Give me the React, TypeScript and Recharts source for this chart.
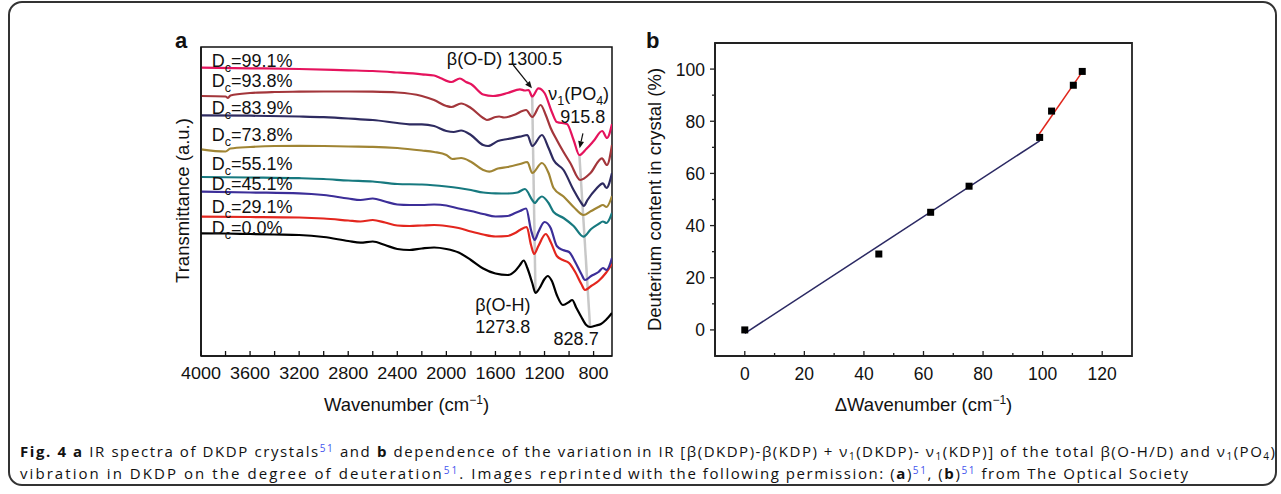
import React from 'react';
import {
  ComposedChart,
  Line,
  Scatter,
  XAxis,
  YAxis,
  ReferenceArea,
  ReferenceLine,
  ReferenceDot,
  Label,
} from 'recharts';

const FONT = '"Liberation Sans", Arial, Helvetica, sans-serif';
const CAPTION_FONT = '"Open Sans", "Noto Sans", sans-serif';

// ---------------- Panel a : IR spectra (wavenumber, transmittance a.u.) ----------------
const wavenumberTicks = [4000, 3800, 3600, 3400, 3200, 3000, 2800, 2600, 2400, 2200, 2000, 1800, 1600, 1400, 1200, 1000, 800];
const wavenumberLabelStep = 400;

const deuterationLabels = ['99.1', '93.8', '83.9', '73.8', '55.1', '45.1', '29.1', '0.0'];
const spectrumColors = ['#e5135d', '#a3363b', '#2e2b60', '#a08534', '#17797f', '#3c2e98', '#e3261e', '#000000'];

const spectrumD991 = [[4000, 28.83], [3600, 28.77], [3200, 28.7], [2800, 28.57], [2600, 28.5], [2400, 28.35], [2200, 28.17], [2100, 28.05], [2050, 27.8], [1960, 27.4], [1890, 27.75], [1840, 27.4], [1800, 27.2], [1700, 26.15], [1620, 26.0], [1500, 26.3], [1400, 26.67], [1360, 26.55], [1330, 26.6], [1300.5, 25.95], [1250, 26.77], [1200, 26.3], [1137, 24.3], [1100, 23.4], [1017, 23.2], [963, 21.6], [915.8, 20.1], [860, 20.7], [800, 21.5], [730, 22.5], [691, 21.8], [650, 23.2]];
const spectrumD938 = [[4000, 26.0], [3800, 25.95], [3780, 25.8], [3760, 26.05], [3600, 26.3], [3400, 26.4], [3200, 26.43], [3000, 26.45], [2800, 26.45], [2600, 26.43], [2400, 26.35], [2200, 26.0], [2100, 25.6], [2000, 25.0], [1960, 24.9], [1880, 25.25], [1800, 24.8], [1700, 23.8], [1670, 23.6], [1600, 23.9], [1570, 23.95], [1530, 23.85], [1450, 24.1], [1350, 24.6], [1300, 23.9], [1232, 25.1], [1190, 24.1], [1150, 22.8], [1100, 21.6], [1045, 20.4], [990, 19.3], [909, 17.6], [827, 18.27], [732, 19.77], [691, 19.1], [650, 21.1]];
const spectrumD839 = [[4000, 24.07], [3600, 24.03], [3200, 23.95], [3000, 23.88], [2800, 23.75], [2700, 23.67], [2600, 23.6], [2400, 23.3], [2300, 23.17], [2200, 23.17], [2100, 23.0], [2000, 22.5], [1940, 22.4], [1880, 22.55], [1800, 22.1], [1700, 21.1], [1660, 21.0], [1580, 21.5], [1500, 21.7], [1400, 21.93], [1340, 22.1], [1300, 21.0], [1221, 22.1], [1167, 20.8], [1126, 19.6], [1045, 18.6], [963, 16.6], [900, 15.3], [880, 15.0], [850, 15.6], [780, 16.7], [724, 17.27], [695, 16.8], [650, 18.3]];
const spectrumD738 = [[4000, 20.67], [3800, 20.45], [3760, 20.75], [3600, 20.9], [3400, 21.0], [3200, 21.02], [3000, 21.0], [2800, 20.95], [2600, 20.92], [2400, 20.8], [2200, 20.55], [2100, 20.4], [2000, 20.1], [1950, 19.7], [1880, 19.8], [1800, 19.43], [1700, 18.6], [1650, 18.43], [1580, 18.75], [1500, 18.9], [1400, 19.2], [1340, 19.4], [1300, 18.3], [1221, 19.3], [1167, 18.3], [1126, 16.8], [1045, 15.95], [963, 14.9], [882, 14.1], [820, 14.5], [760, 14.9], [724, 15.1], [695, 14.9], [650, 16.0]];
const spectrumD551 = [[4000, 17.9], [3600, 17.85], [3200, 17.78], [3000, 17.7], [2800, 17.55], [2600, 17.45], [2400, 17.2], [2200, 17.15], [2000, 16.95], [1900, 16.8], [1800, 16.6], [1700, 16.35], [1600, 16.27], [1500, 16.25], [1420, 16.35], [1360, 16.7], [1300, 15.6], [1280, 15.3], [1250, 15.7], [1221, 15.95], [1167, 15.3], [1126, 14.4], [1045, 13.8], [963, 13.0], [882, 11.93], [820, 12.7], [760, 13.2], [724, 13.45], [695, 13.3], [650, 14.3]];
const spectrumD451 = [[4000, 16.43], [3600, 16.35], [3200, 16.27], [3000, 16.1], [2800, 15.75], [2700, 15.6], [2600, 15.75], [2500, 15.45], [2400, 15.15], [2300, 15.1], [2200, 15.1], [2100, 15.15], [2000, 15.05], [1900, 14.75], [1800, 14.5], [1700, 14.2], [1600, 13.95], [1500, 14.0], [1440, 14.3], [1400, 14.5], [1350, 14.75], [1310, 12.6], [1280, 11.6], [1250, 12.4], [1200, 13.4], [1150, 12.8], [1100, 11.0], [1050, 10.6], [1000, 10.4], [950, 9.4], [900, 8.2], [870, 7.6], [820, 8.0], [760, 8.4], [724, 8.8], [695, 8.6], [650, 9.8]];
const spectrumD291 = [[4000, 13.93], [3600, 13.9], [3200, 13.85], [3000, 13.75], [2800, 13.55], [2700, 13.45], [2600, 13.6], [2500, 13.35], [2400, 13.05], [2300, 13.0], [2200, 13.05], [2100, 13.1], [2000, 13.0], [1900, 12.8], [1800, 12.45], [1700, 12.15], [1600, 11.95], [1500, 12.0], [1440, 12.3], [1400, 12.6], [1345, 12.9], [1310, 11.1], [1285, 10.2], [1250, 11.0], [1190, 12.2], [1150, 11.4], [1100, 10.0], [1050, 9.6], [1000, 9.3], [950, 8.4], [900, 7.2], [870, 6.6], [820, 7.0], [760, 7.5], [700, 8.3], [650, 9.2]];
const spectrumD000 = [[4000, 12.27], [3800, 12.25], [3600, 12.2], [3400, 12.15], [3200, 12.1], [3000, 11.9], [2800, 11.5], [2700, 11.33], [2600, 11.45], [2500, 11.1], [2400, 10.7], [2300, 10.6], [2200, 10.75], [2100, 10.85], [2000, 10.7], [1900, 10.35], [1800, 9.6], [1700, 8.75], [1600, 8.25], [1500, 8.1], [1440, 8.5], [1400, 9.1], [1370, 9.55], [1340, 8.8], [1300, 7.3], [1273.8, 6.3], [1240, 6.8], [1200, 7.7], [1175, 8.0], [1140, 7.5], [1100, 6.1], [1050, 5.1], [1000, 5.4], [975, 5.6], [940, 4.8], [900, 3.9], [860, 3.1], [828.7, 2.9], [780, 3.05], [740, 3.2], [700, 3.6], [650, 4.3]];

const spectraRaw = [spectrumD991, spectrumD938, spectrumD839, spectrumD738, spectrumD551, spectrumD451, spectrumD291, spectrumD000];
const spectra = spectraRaw.map((s) => s.map(([wn, t]) => ({ wn, t })));

// peak positions marked in panel a
const betaOD = 1300.5;
const betaOH = 1273.8;
const nu1D = 915.8;
const nu1H = 828.7;

// style-only: pixel nudges of the D_c labels relative to each curve start
const labelNudgePx = [-1, -9, -1, -8, -7.5, -1.5, -3.5, 0.5];
const labelWn = 3913;

// ---------------- Panel b : deuterium content vs delta wavenumber ----------------
const deltaWavenumber = [0, 45, 62.4, 75.3, 99, 103, 110.3, 113.3];
const deuteriumContent = [0, 29.1, 45.1, 55.1, 73.8, 83.9, 93.8, 99.1];
const fitLowX = [0, 99];
const fitLowY = [-1.3, 72.5];
const fitHighX = [98.8, 113.7];
const fitHighY = [75, 99.6];
const bXTicks = [0, 10, 20, 30, 40, 50, 60, 70, 80, 90, 100, 110, 120];
const bYTicks = [0, 10, 20, 30, 40, 50, 60, 70, 80, 90, 100];

const bPoints = deltaWavenumber.map((dw, i) => ({ dw, dc: deuteriumContent[i] }));
const fitLow = fitLowX.map((dw, i) => ({ dw, dc: fitLowY[i] }));
const fitHigh = fitHighX.map((dw, i) => ({ dw, dc: fitHighY[i] }));

const valueAt = (s: { wn: number; t: number }[], wn: number) => {
  const p = s.find((d) => d.wn === wn);
  return p ? p.t : 0;
};

// ---------------- custom renderers ----------------
const WnTick = (props: any) => {
  const { x, y, payload } = props;
  const v = payload.value;
  const major = v % wavenumberLabelStep === 0;
  const s = String(v);
  return (
    <g>
      <line x1={x} y1={y} x2={x} y2={y - 5} stroke="#111" strokeWidth={1.3} />
      {major && (
        <text
          x={x - s.length * 5}
          y={y + 23}
          textLength={s.length * 10}
          lengthAdjust="spacingAndGlyphs"
          fontFamily={FONT}
          fontSize={16.5}
          fill="#111"
        >
          {s}
        </text>
      )}
    </g>
  );
};

const DwTick = (props: any) => {
  const { x, y, payload } = props;
  const v = payload.value;
  const major = v % 20 === 0;
  return (
    <g>
      <line x1={x} y1={y} x2={x} y2={y - (major ? 5 : 3)} stroke="#222" strokeWidth={1.3} />
      {major && (
        <text x={x} y={y + 24} textAnchor="middle" fontFamily={FONT} fontSize={17.5} fill="#111">
          {v}
        </text>
      )}
    </g>
  );
};

const DcTick = (props: any) => {
  const { x, y, payload } = props;
  const v = payload.value;
  const major = v % 20 === 0;
  return (
    <g>
      <line x1={x} y1={y} x2={x - (major ? 5 : 3)} y2={y} stroke="#222" strokeWidth={1.3} />
      {major && (
        <text x={x - 10} y={y + 6.5} textAnchor="end" fontFamily={FONT} fontSize={17.5} fill="#111">
          {v}
        </text>
      )}
    </g>
  );
};

const Arrow = (p: any) => {
  const { x1, y1, x2, y2 } = p;
  const ang = Math.atan2(y2 - y1, x2 - x1);
  const L = 7;
  const W = 3;
  const bx = x2 - L * Math.cos(ang);
  const by = y2 - L * Math.sin(ang);
  const px = -Math.sin(ang) * W;
  const py = Math.cos(ang) * W;
  return (
    <g>
      <line x1={x1} y1={y1} x2={bx} y2={by} stroke="#111" strokeWidth={1.2} />
      <polygon points={`${x2},${y2} ${bx + px},${by + py} ${bx - px},${by - py}`} fill="#111" />
    </g>
  );
};

const SquareMarker = (p: any) => (
  <rect x={p.cx - 3.5} y={p.cy - 3.5} width={7} height={7} fill="#000" />
);

const txt = { fontFamily: FONT, fill: '#111' } as const;

const PanelA = () => (
  <ComposedChart width={640} height={430} margin={{ top: 47, right: 28, bottom: 14, left: 165 }}>
    <XAxis
      dataKey="wn"
      type="number"
      domain={[650, 4000]}
      reversed
      allowDataOverflow
      ticks={wavenumberTicks}
      interval={0}
      tickLine={false}
      tickSize={0}
      tickMargin={0}
      tick={<WnTick />}
      axisLine={{ stroke: '#111', strokeWidth: 1.5 }}
      height={60}
    >
      <Label
        content={(p: any) => {
          const vb = p.viewBox;
          return (
            <text x={vb.x + vb.width / 2} y={vb.y + 54.5} textAnchor="middle" fontSize={18.5} {...txt}>
              Wavenumber (cm
              <tspan dy={-7} fontSize={12}>−1</tspan>
              <tspan dy={7}>)</tspan>
            </text>
          );
        }}
      />
    </XAxis>
    <YAxis
      type="number"
      domain={[0, 30.9]}
      width={36}
      tick={false}
      tickLine={false}
      axisLine={{ stroke: '#111', strokeWidth: 1.5 }}
    >
      <Label
        content={(p: any) => {
          const vb = p.viewBox;
          const cx = vb.x + 24;
          const cy = vb.y + vb.height / 2 - 1;
          return (
            <text transform={`translate(${cx},${cy}) rotate(-90)`} textAnchor="middle" fontSize={18.5} {...txt}>
              Transmittance (a.u.)
            </text>
          );
        }}
      />
    </YAxis>
    <ReferenceArea x1={4000} x2={650} y1={0} y2={30.9} fill="none" stroke="#111" strokeWidth={1.5} />
    <ReferenceLine
      segment={[{ x: betaOD, y: valueAt(spectra[0], betaOD) }, { x: betaOH, y: valueAt(spectra[7], betaOH) }]}
      stroke="#c8c8c8"
      strokeWidth={2.5}
    />
    <ReferenceLine
      segment={[{ x: nu1D, y: valueAt(spectra[0], nu1D) }, { x: nu1H, y: valueAt(spectra[7], nu1H) }]}
      stroke="#c8c8c8"
      strokeWidth={2.5}
    />
    {spectra
      .map((s, i) => (
        <Line
          key={deuterationLabels[i]}
          data={s}
          dataKey="t"
          type="monotone"
          stroke={spectrumColors[i]}
          strokeWidth={2.2}
          dot={false}
          activeDot={false}
          isAnimationActive={false}
        />
      ))
      .reverse()}
    {spectra.map((s, i) => (
      <ReferenceDot
        key={'lab' + i}
        x={labelWn}
        y={s[0].t}
        r={0}
        shape={(p: any) => (
          <text x={p.cx} y={p.cy + labelNudgePx[i]} fontSize={18} {...txt}>
            D<tspan fontSize={12.5} dy={5}>c</tspan>
            <tspan dy={-5}>{'=' + deuterationLabels[i] + '%'}</tspan>
          </text>
        )}
      />
    ))}
    <ReferenceDot
      x={1996}
      y={29.15}
      r={0}
      shape={(p: any) => (
        <text x={p.cx} y={p.cy} fontSize={18} {...txt}>
          {'β(O-D) ' + betaOD}
        </text>
      )}
    />
    <ReferenceLine segment={[{ x: 1455, y: 29.1 }, { x: 1302.6, y: 26.77 }]} shape={<Arrow />} />
    <ReferenceDot
      x={1170}
      y={25.6}
      r={0}
      shape={(p: any) => (
        <text x={p.cx} y={p.cy} fontSize={18} {...txt}>
          ν<tspan fontSize={12.5} dy={5}>1</tspan>
          <tspan dy={-5}>(PO</tspan>
          <tspan fontSize={12.5} dy={5}>4</tspan>
          <tspan dy={-5}>)</tspan>
        </text>
      )}
    />
    <ReferenceDot
      x={1072}
      y={23.27}
      r={0}
      shape={(p: any) => (
        <text x={p.cx} y={p.cy} fontSize={18} {...txt}>
          {String(nu1D)}
        </text>
      )}
    />
    <ReferenceLine segment={[{ x: 887, y: 22.27 }, { x: 914, y: 20.77 }]} shape={<Arrow />} />
    <ReferenceDot
      x={1765}
      y={4.5}
      r={0}
      shape={(p: any) => (
        <text x={p.cx} y={p.cy} fontSize={18} {...txt}>
          β(O-H)
        </text>
      )}
    />
    <ReferenceDot
      x={1765}
      y={2.27}
      r={0}
      shape={(p: any) => (
        <text x={p.cx} y={p.cy} fontSize={18} {...txt}>
          {String(betaOH)}
        </text>
      )}
    />
    <ReferenceDot
      x={1126}
      y={1.1}
      r={0}
      shape={(p: any) => (
        <text x={p.cx} y={p.cy} fontSize={18} {...txt}>
          {String(nu1H)}
        </text>
      )}
    />
  </ComposedChart>
);

const PanelB = () => (
  <ComposedChart width={600} height={430} margin={{ top: 43, right: 28, bottom: 14, left: 95 }}>
    <XAxis
      dataKey="dw"
      type="number"
      domain={[-10, 130]}
      allowDataOverflow
      ticks={bXTicks}
      interval={0}
      tickLine={false}
      tickSize={0}
      tickMargin={0}
      tick={<DwTick />}
      axisLine={{ stroke: '#222', strokeWidth: 1.8 }}
      height={60}
    >
      <Label
        content={(p: any) => {
          const vb = p.viewBox;
          return (
            <text x={vb.x + vb.width / 2} y={vb.y + 54.5} textAnchor="middle" fontSize={18.5} {...txt}>
              ΔWavenumber (cm
              <tspan dy={-7} fontSize={12}>−1</tspan>
              <tspan dy={7}>)</tspan>
            </text>
          );
        }}
      />
    </XAxis>
    <YAxis
      type="number"
      domain={[-10, 110]}
      allowDataOverflow
      ticks={bYTicks}
      interval={0}
      width={60}
      tickLine={false}
      tickSize={0}
      tickMargin={0}
      tick={<DcTick />}
      axisLine={{ stroke: '#222', strokeWidth: 1.8 }}
    >
      <Label
        content={(p: any) => {
          const vb = p.viewBox;
          const cx = vb.x + 6;
          const cy = vb.y + vb.height / 2;
          return (
            <text transform={`translate(${cx},${cy}) rotate(-90)`} textAnchor="middle" fontSize={18.5} {...txt}>
              Deuterium content in crystal (%)
            </text>
          );
        }}
      />
    </YAxis>
    <ReferenceArea x1={-10} x2={130} y1={-10} y2={110} fill="none" stroke="#222" strokeWidth={1.8} />
    <Line data={fitLow} dataKey="dc" type="linear" stroke="#2b2963" strokeWidth={1.5} dot={false} activeDot={false} isAnimationActive={false} />
    <Line data={fitHigh} dataKey="dc" type="linear" stroke="#e0251b" strokeWidth={1.5} dot={false} activeDot={false} isAnimationActive={false} />
    <Scatter data={bPoints} dataKey="dc" shape={SquareMarker} isAnimationActive={false} />
  </ComposedChart>
);

const blue = '#4455ee';
const capFs = 15;
const subFs = 10;

const Caption = () => (
  <svg width={1281} height={494} style={{ position: 'absolute', left: 0, top: 0, pointerEvents: 'none' }}>
    <text x={175} y={47.5} fontFamily={FONT} fontWeight="bold" fontSize={22} fill="#111">a</text>
    <text x={646} y={47.5} fontFamily={FONT} fontWeight="bold" fontSize={22} fill="#111">b</text>
    <g fontFamily={CAPTION_FONT} fontSize={capFs} fill="#111">
      <text x={20} y={457} textLength={612} lengthAdjust="spacing">
        <tspan fontWeight="bold">{'Fig. 4 a'}</tspan>
        <tspan>{' IR spectra of DKDP crystals'}</tspan>
        <tspan dy={-5} fontSize={subFs} fill={blue}>51</tspan>
        <tspan dy={5}>{' and '}</tspan>
        <tspan fontWeight="bold">b</tspan>
        <tspan>{' dependence of the variation'}</tspan>
      </text>
      <text x={637} y={457} textLength={638} lengthAdjust="spacing">
        <tspan>{'in IR [β(DKDP)-β(KDP) + ν'}</tspan>
        <tspan dy={3} fontSize={subFs}>1</tspan>
        <tspan dy={-3}>{'(DKDP)- ν'}</tspan>
        <tspan dy={3} fontSize={subFs}>1</tspan>
        <tspan dy={-3}>{'(KDP)] of the total β(O-H/D) and ν'}</tspan>
        <tspan dy={3} fontSize={subFs}>1</tspan>
        <tspan dy={-3}>{'(PO'}</tspan>
        <tspan dy={3} fontSize={subFs}>4</tspan>
        <tspan dy={-3}>)</tspan>
      </text>
      <text x={20} y={479} textLength={602} lengthAdjust="spacing">
        <tspan>{'vibration in DKDP on the degree of deuteration'}</tspan>
        <tspan dy={-5} fontSize={subFs} fill={blue}>51</tspan>
        <tspan dy={5}>{'. Images reprinted'}</tspan>
      </text>
      <text x={628} y={479} textLength={560} lengthAdjust="spacing">
        <tspan>{'with the following permission: ('}</tspan>
        <tspan fontWeight="bold">a</tspan>
        <tspan>)</tspan>
        <tspan dy={-5} fontSize={subFs} fill={blue}>51</tspan>
        <tspan dy={5}>{', ('}</tspan>
        <tspan fontWeight="bold">b</tspan>
        <tspan>)</tspan>
        <tspan dy={-5} fontSize={subFs} fill={blue}>51</tspan>
        <tspan dy={5}>{'  from The Optical Society'}</tspan>
      </text>
    </g>
  </svg>
);

export default function App() {
  return (
    <div style={{ position: 'absolute', left: 0, top: 0, width: 1281, height: 494, background: '#fff', overflow: 'hidden' }}>
      <div
        style={{
          position: 'absolute',
          left: 8,
          top: 1,
          width: 1269,
          height: 485,
          border: '2px solid #333',
          borderRadius: 14,
          boxSizing: 'border-box',
        }}
      />
      <div style={{ position: 'absolute', left: 0, top: 0 }}>
        <PanelA />
      </div>
      <div style={{ position: 'absolute', left: 560, top: 0 }}>
        <PanelB />
      </div>
      <Caption />
    </div>
  );
}
